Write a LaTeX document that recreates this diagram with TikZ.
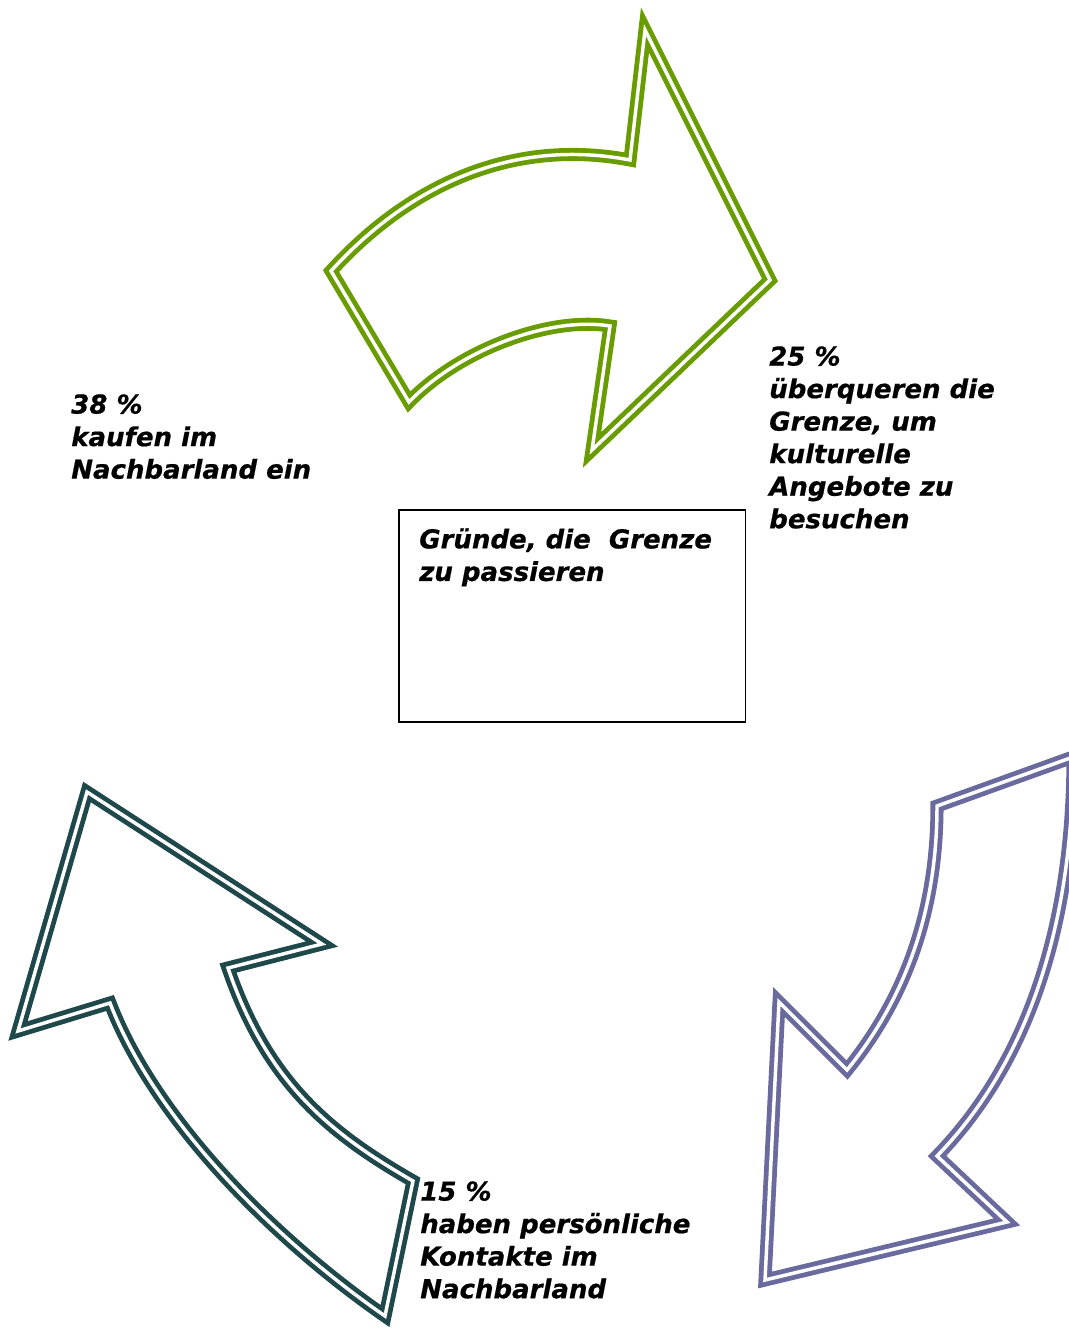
\documentclass[tikz,border=0pt]{standalone}
\usepackage{fontspec}
\setmainfont{DejaVu Sans}[BoldItalicFeatures={FakeBold=0.6}]
\usetikzlibrary{positioning}
\definecolor{arrowgreen}{RGB}{104,156,0}
\definecolor{arrowpurple}{RGB}{106,106,158}
\definecolor{arrowteal}{RGB}{30,72,74}

\begin{document}
\begin{tikzpicture}[
    x=0.75pt, y=-0.75pt,
    every node/.style={align=left, inner sep=0pt, anchor=north west, font=\fontsize{19.5}{24.4}\selectfont\bfseries\itshape},
    outline/.style={line width=3.6pt, double=white, double distance=2.6pt, line join=miter},
    green_outline/.style={outline, draw=arrowgreen},
    purple_outline/.style={outline, draw=arrowpurple},
    teal_outline/.style={outline, draw=arrowteal}
]
\useasboundingbox (0,0) rectangle (1069,1330);

\draw[green_outline] (331,271) .. controls (411,183) and (515,138) .. (630,160) -- (645,30) -- (770,280) -- (592,450) -- (610,326) .. controls (550,316) and (459,350) .. (409,402) -- cycle;
\draw[purple_outline] (937,806) .. controls (937,900) and (912,990) .. (847,1070) -- (779,1002) -- (765,1280) -- (1007,1222) -- (937,1156) .. controls (1040,1050) and (1073,900) .. (1073,757) -- cycle;
\draw[teal_outline] (87,792) -- (322,944) -- (228,968) .. controls (268,1085) and (333,1135) .. (413,1181) -- (385,1316) .. controls (275,1240) and (155,1120) .. (110,1003) -- (18,1031) -- cycle;

\node (shopping_label) at (71,394) {38 \%\\kaufen im\\Nachbarland ein};
\node (culture_label) at (769,346) {25 \%\\überqueren die\\Grenze, um\\kulturelle\\Angebote zu\\besuchen};
\node (contacts_label) at (420,1181) {15 \%\\haben persönliche\\Kontakte im\\Nachbarland};

\node (reason_box) [draw, line width=1.2pt, minimum width=260pt, minimum height=159pt] at (398,509) {};
\node (reason_title) [below right=14.25pt and 15.75pt of reason_box.north west] {Gründe, die~ Grenze\\zu passieren};
\end{tikzpicture}
\end{document}
